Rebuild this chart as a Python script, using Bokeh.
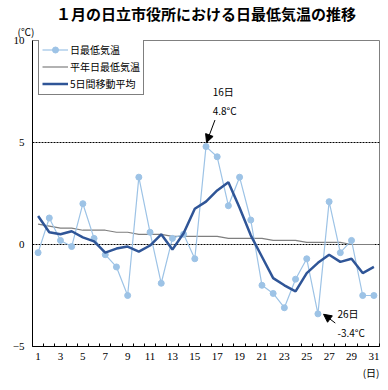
from bokeh.plotting import figure
from bokeh.models import (ColumnDataSource, FixedTicker, Label, Arrow, NormalHead,
                          Legend, LegendItem, Range1d, Title)
from bokeh.embed import file_html
from bokeh.resources import INLINE

# ---- data ----
days = list(range(1, 32))
daily_min = [-0.4, 1.3, 0.2, -0.1, 2.0, 0.3, -0.5, -1.1, -2.5, 3.3, 0.6, -1.9, 0.3, 0.5, -0.7, 4.8,
             4.3, 1.9, 3.3, 1.2, -2.0, -2.4, -3.1, -1.7, -0.7, -3.4, 2.1, -0.4, 0.2, -2.5, -2.5]
normal_min = [1.0, 0.9, 0.8, 0.8, 0.7, 0.7, 0.7, 0.6, 0.6, 0.5, 0.5, 0.5, 0.4, 0.4, 0.4, 0.4,
              0.4, 0.3, 0.3, 0.3, 0.3, 0.2, 0.2, 0.2, 0.1, 0.1, 0.1, 0.1, 0.0, 0.0, 0.0]
moving_avg = [1.4, 0.6, 0.5, 0.65, 0.35, 0.15, -0.4, -0.2, -0.1, -0.35, -0.05, 0.5, -0.25, 0.55, 1.75, 2.1,
              2.65, 3.05, 1.8, 0.45, -0.6, -1.65, -2.0, -2.3, -1.4, -0.9, -0.5, -0.85, -0.7, -1.4, -1.1]
x_tick_days = list(range(1, 32, 2))
y_ticks = [-5, 0, 5, 10]
grid_values = [0, 5]
title_text = "１月の日立市役所における日最低気温の推移"
series_names = ["日最低気温", "平年日最低気温", "5日間移動平均"]
max_day, max_label = 16, "4.8°C"
min_day, min_label = 26, "-3.4°C"

JP = "Noto Sans CJK JP"
LIGHT = "#9dc3e6"
DARK = "#2f5597"
GRAY = "#7f7f7f"

src = ColumnDataSource(dict(day=days, daily=daily_min, normal=normal_min, ma=moving_avg))

p = figure(width=388, height=390, output_backend="svg", toolbar_location=None,
           x_range=Range1d(0.5, 31.5), y_range=Range1d(-5, 10),
           min_border_left=32, min_border_right=9, min_border_top=39, min_border_bottom=44)
p.background_fill_color = "white"
p.border_fill_color = "white"
p.outline_line_color = "#808080"
p.outline_line_width = 1

# titles (outside the frame)
p.title.text = title_text
p.title.text_font = JP
p.title.text_font_size = "15px"
p.title.text_font_style = "bold"
p.title.text_color = "black"
p.title.align = "center"
p.title.offset = -5
p.title.standoff = 0
p.title.vertical_align = "bottom"

unit_title = Title(text="(℃)", align="left", offset=-15, text_font=JP, text_font_size="10px",
                   text_font_style="normal", text_color="black", standoff=0,
                   vertical_align="top")
p.add_layout(unit_title, "above")

day_title = Title(text="(日)", align="right", offset=0, text_font=JP, text_font_size="10px",
                  text_font_style="normal", text_color="black", standoff=0)

# axes
p.xaxis.ticker = FixedTicker(ticks=x_tick_days, minor_ticks=[d + 0.5 for d in range(0, 32)])
p.xaxis.major_tick_in = 0
p.xaxis.major_tick_out = 0
p.xaxis.minor_tick_in = 3
p.xaxis.minor_tick_out = 0
p.xaxis.minor_tick_line_color = "black"
p.xaxis.axis_line_color = "black"
p.xaxis.major_label_text_font = "Liberation Serif"
p.xaxis.major_label_text_font_size = "11px"
p.xaxis.major_label_text_color = "black"
p.xaxis.major_label_standoff = 6
p.add_layout(day_title, "below")

p.yaxis.ticker = FixedTicker(ticks=y_ticks)
p.yaxis.major_tick_in = 0
p.yaxis.major_tick_out = 0
p.yaxis.minor_tick_in = 0
p.yaxis.minor_tick_out = 0
p.yaxis.axis_line_color = "black"
p.yaxis.major_label_text_font = "Liberation Serif"
p.yaxis.major_label_text_font_size = "11px"
p.yaxis.major_label_text_color = "black"
p.yaxis.major_label_standoff = 8

p.xgrid.grid_line_color = None
p.ygrid.ticker = FixedTicker(ticks=grid_values)
p.ygrid.grid_line_color = "black"
p.ygrid.grid_line_dash = "2 1"
p.ygrid.grid_line_width = 1

# series
r_norm = p.line("day", "normal", source=src, line_color=GRAY, line_width=1.2)
r_daily = p.line("day", "daily", source=src, line_color=LIGHT, line_width=1.2)
r_dots = p.scatter("day", "daily", source=src, size=6, marker="circle",
                   fill_color=LIGHT, line_color=LIGHT)
r_ma = p.line("day", "ma", source=src, line_color=DARK, line_width=2.5)

legend = Legend(items=[LegendItem(label=series_names[0], renderers=[r_daily, r_dots]),
                       LegendItem(label=series_names[1], renderers=[r_norm]),
                       LegendItem(label=series_names[2], renderers=[r_ma])],
                location=(6, 251), orientation="vertical")
legend.border_line_color = "black"
legend.border_line_width = 1
legend.background_fill_color = "white"
legend.background_fill_alpha = 1
legend.label_text_font = JP
legend.label_text_font_size = "10px"
legend.label_text_color = "black"
legend.glyph_width = 26
legend.glyph_height = 15
legend.label_height = 15
legend.label_standoff = 2
legend.spacing = 2
legend.padding = 3
legend.margin = 0
p.add_layout(legend, "center")

# annotations
vmax = daily_min[max_day - 1]
p.add_layout(Label(x=max_day + 0.6, y=vmax + 2.7, text=f"{max_day}日", text_font=JP,
                   text_font_size="10px", text_align="left", text_baseline="middle",
                   text_color="black"))
p.add_layout(Label(x=max_day + 0.6, y=vmax + 1.75, text=max_label, text_font=JP,
                   text_font_size="10px", text_align="left", text_baseline="middle",
                   text_color="black"))
p.add_layout(Arrow(x_start=max_day + 0.8, y_start=vmax + 1.3, x_end=max_day + 0.05, y_end=vmax + 0.2,
                   line_color="black", line_width=1,
                   end=NormalHead(size=8, fill_color="black", line_color="black")))

vmin = daily_min[min_day - 1]
p.add_layout(Label(x=min_day + 1.75, y=vmin, text=f"{min_day}日", text_font=JP,
                   text_font_size="10px", text_align="left", text_baseline="middle",
                   text_color="black"))
p.add_layout(Label(x=min_day + 1.75, y=vmin - 0.92, text=min_label, text_font=JP,
                   text_font_size="10px", text_align="left", text_baseline="middle",
                   text_color="black"))
p.add_layout(Arrow(x_start=min_day + 1.55, y_start=vmin - 0.45, x_end=min_day + 0.5, y_end=vmin - 0.02,
                   line_color="black", line_width=1,
                   end=NormalHead(size=8, fill_color="black", line_color="black")))

open("out.html", "w").write(file_html(p, INLINE))
